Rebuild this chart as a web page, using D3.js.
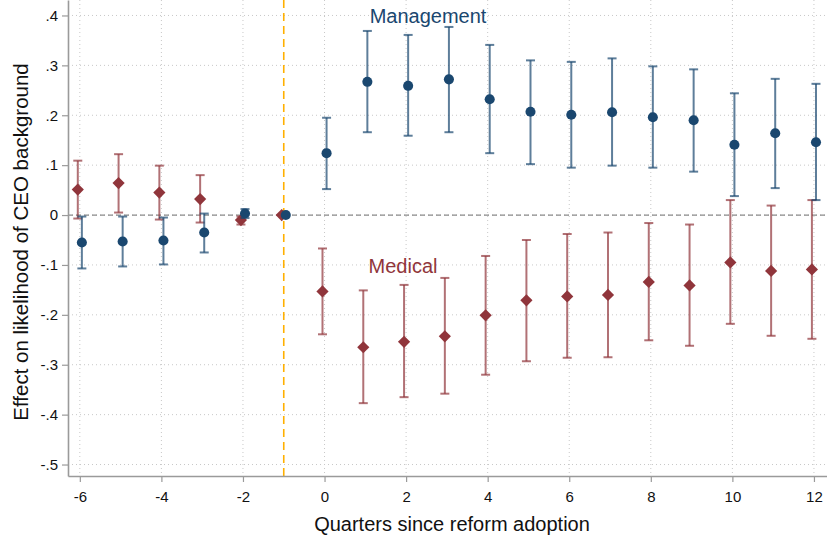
<!doctype html>
<html>
<head>
<meta charset="utf-8">
<script src="https://d3js.org/d3.v7.min.js"></script>
<style>
  body { margin: 0; background: #fff; }
  svg { font-family: "Liberation Sans", Arial, sans-serif; }
</style>
</head>
<body>
<script>

  // quarters since reform adoption
  var quarters = [-6,-5,-4,-3,-2,-1,0,1,2,3,4,5,6,7,8,9,10,11,12];

  // Management (blue circles), estimate and 95% CI
  var mgmtEst = [-0.055,-0.053,-0.051,-0.035,0.003,0,0.124,0.267,0.259,0.272,0.232,0.207,0.201,0.206,0.196,0.190,0.141,0.164,0.146];
  var mgmtLo  = [-0.107,-0.103,-0.099,-0.075,-0.006,null,0.052,0.166,0.159,0.166,0.124,0.102,0.095,0.099,0.095,0.087,0.038,0.054,0.030];
  var mgmtHi  = [-0.003,-0.003,-0.005,0.003,0.012,null,0.195,0.369,0.361,0.377,0.341,0.310,0.307,0.314,0.298,0.292,0.244,0.273,0.263];

  // Medical (red diamonds)
  var medEst = [0.051,0.064,0.045,0.032,-0.010,0,-0.153,-0.265,-0.254,-0.243,-0.201,-0.171,-0.163,-0.160,-0.134,-0.141,-0.095,-0.112,-0.109];
  var medLo  = [-0.007,0.005,-0.009,-0.015,-0.019,null,-0.239,-0.377,-0.365,-0.358,-0.320,-0.293,-0.286,-0.285,-0.251,-0.262,-0.218,-0.242,-0.248];
  var medHi  = [0.109,0.122,0.099,0.080,-0.003,null,-0.067,-0.151,-0.140,-0.126,-0.082,-0.050,-0.038,-0.035,-0.016,-0.019,0.030,0.019,0.030];

  var yTicks = [-0.5,-0.4,-0.3,-0.2,-0.1,0,0.1,0.2,0.3,0.4];
  var xTicks = [-6,-4,-2,0,2,4,6,8,10,12];
  var reformLine = -1;

  var navy = "#1a476f", maroon = "#90353b";
  var width = 827, height = 540;
  var left = 68, bottom = 476;

  var x = d3.scaleLinear().domain([-6.29, 12.32]).range([left, width]);
  var y = d3.scaleLinear().domain([-0.523, 0.431]).range([bottom, 0]);

  var svg = d3.select("body").append("svg").attr("width", width).attr("height", height);

  function fmt(d){
    if (d === 0) return "0";
    return d.toFixed(1).replace("0.", ".");
  }

  // grid
  svg.append("g").selectAll("line").data(yTicks).enter().append("line")
      .attr("x1", left).attr("x2", width)
      .attr("y1", function(d){ return y(d); }).attr("y2", function(d){ return y(d); })
      .attr("stroke", "#c8c8c8").attr("stroke-width", 1).attr("stroke-dasharray", "1,3");
  svg.append("g").selectAll("line").data(xTicks).enter().append("line")
      .attr("x1", function(d){ return x(d); }).attr("x2", function(d){ return x(d); })
      .attr("y1", 0).attr("y2", bottom)
      .attr("stroke", "#c8c8c8").attr("stroke-width", 1).attr("stroke-dasharray", "1,3");

  // zero line
  svg.append("line")
      .attr("x1", left).attr("x2", width).attr("y1", y(0)).attr("y2", y(0))
      .attr("stroke", "#8a8a8a").attr("stroke-width", 1.3).attr("stroke-dasharray", "5,3");

  // reform line
  svg.append("line")
      .attr("x1", x(reformLine)).attr("x2", x(reformLine)).attr("y1", 0).attr("y2", bottom)
      .attr("stroke", "#ffb000").attr("stroke-width", 1.6).attr("stroke-dasharray", "8,5");

  // axes
  var yAxis = svg.append("g").attr("transform", "translate(" + left + ",0)")
      .call(d3.axisLeft(y).tickValues(yTicks).tickFormat(fmt).tickSize(6).tickSizeOuter(0));
  var xAxis = svg.append("g").attr("transform", "translate(0," + bottom + ")")
      .call(d3.axisBottom(x).tickValues(xTicks).tickFormat(function(d){ return String(d); }).tickSize(6).tickSizeOuter(0));
  [xAxis, yAxis].forEach(function(a){
    a.select(".domain").attr("stroke", "#9a9a9a").attr("stroke-width", 1.6);
    a.selectAll(".tick line").attr("stroke", "#9a9a9a").attr("stroke-width", 1.2);
    a.selectAll(".tick text").attr("fill", "#111").style("font-size", "15px")
      .style("font-family", "'Liberation Sans', Arial, sans-serif");
  });
  yAxis.selectAll(".tick text").attr("x", -10);
  xAxis.selectAll(".tick text").attr("y", 15);

  // titles
  svg.append("text").attr("x", 452).attr("y", 531).attr("text-anchor", "middle")
      .style("font-size", "20px").attr("fill", "#111").text("Quarters since reform adoption");
  svg.append("text").attr("transform", "translate(28,242) rotate(-90)").attr("text-anchor", "middle")
      .style("font-size", "20.5px").attr("fill", "#111").text("Effect on likelihood of CEO background");

  // series
  function drawSeries(est, lo, hi, col, shift, shape){
    var g = svg.append("g");
    var rows = quarters.map(function(q, i){ return { q: q + shift, e: est[i], lo: lo[i], hi: hi[i] }; });
    var ci = rows.filter(function(d){ return d.lo !== null; });
    var cap = 4.5;
    g.selectAll(".bar").data(ci).enter().append("line")
      .attr("x1", function(d){ return x(d.q); }).attr("x2", function(d){ return x(d.q); })
      .attr("y1", function(d){ return y(d.lo); }).attr("y2", function(d){ return y(d.hi); })
      .attr("stroke", col).attr("stroke-opacity", 0.7).attr("stroke-width", 2);
    g.selectAll(".capLo").data(ci).enter().append("line")
      .attr("x1", function(d){ return x(d.q) - cap; }).attr("x2", function(d){ return x(d.q) + cap; })
      .attr("y1", function(d){ return y(d.lo); }).attr("y2", function(d){ return y(d.lo); })
      .attr("stroke", col).attr("stroke-opacity", 0.7).attr("stroke-width", 2);
    g.selectAll(".capHi").data(ci).enter().append("line")
      .attr("x1", function(d){ return x(d.q) - cap; }).attr("x2", function(d){ return x(d.q) + cap; })
      .attr("y1", function(d){ return y(d.hi); }).attr("y2", function(d){ return y(d.hi); })
      .attr("stroke", col).attr("stroke-opacity", 0.7).attr("stroke-width", 2);
    g.selectAll(".pt").data(rows).enter().append("path")
      .attr("transform", function(d){ return "translate(" + x(d.q) + "," + y(d.e) + ")"; })
      .attr("d", d3.symbol().type(shape).size(shape === d3.symbolDiamond2 ? 95 : 80))
      .attr("fill", col);
  }

  drawSeries(medEst, medLo, medHi, maroon, -0.05, d3.symbolDiamond2);
  drawSeries(mgmtEst, mgmtLo, mgmtHi, navy, 0.05, d3.symbolCircle);

  // labels
  svg.append("text").attr("x", 428).attr("y", 23).attr("text-anchor", "middle")
      .style("font-size", "20px").attr("fill", navy).text("Management");
  svg.append("text").attr("x", 403).attr("y", 273).attr("text-anchor", "middle")
      .style("font-size", "20px").attr("fill", maroon).text("Medical");

</script>
</body>
</html>
